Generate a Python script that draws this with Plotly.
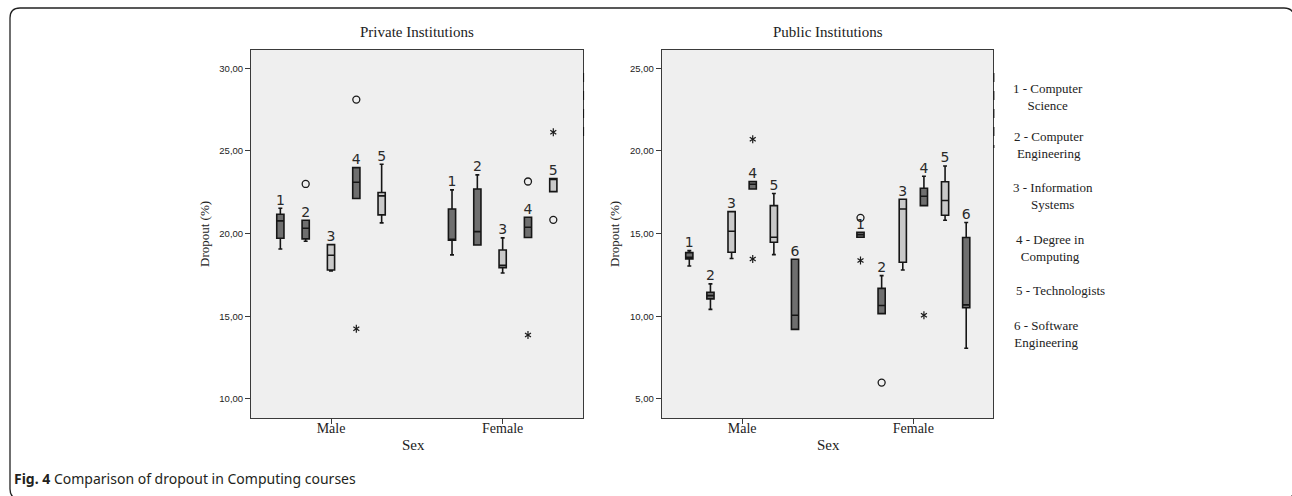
import plotly.graph_objects as go

W, H = 1292, 496

sexes = ["Male", "Female"]
programs = ["1 - Computer<br>Science", "2 - Computer<br>Engineering", "3 - Information<br>Systems",
            "4 - Degree in<br>Computing", "5 - Technologists", "6 - Software<br>Engineering"]
program_ids = ["1", "2", "3", "4", "5", "6"]

# Private institutions (programs 1-5); one list per sex
priv_lower = [[19.07, 19.54, 17.74, 22.12, 20.65], [18.71, 19.31, 17.62, 19.76, 22.54]]
priv_q1 = [[19.72, 19.68, 17.80, 22.12, 21.13], [19.60, 19.31, 17.94, 19.76, 22.54]]
priv_median = [[20.77, 20.32, 18.69, 23.10, 22.28], [19.60, 20.12, 18.08, 20.38, 23.27]]
priv_q3 = [[21.17, 20.81, 19.33, 23.99, 22.48], [21.49, 22.70, 19.01, 20.99, 23.33]]
priv_upper = [[21.53, 20.81, 19.33, 23.99, 24.19], [22.64, 23.55, 19.74, 20.99, 23.33]]
# outliers: (sex index, program index, value)
priv_circles = [(0, 1, 23.0), (0, 3, 28.10), (1, 3, 23.15), (1, 4, 20.83)]
priv_stars = [(0, 3, 14.25), (1, 3, 13.87), (1, 4, 26.13)]

# Public institutions (programs 1-6)
pub_lower = [[13.04, 10.42, 13.49, 17.70, 13.73, 9.21], [14.78, 10.16, 12.80, 16.69, 15.81, 8.07]]
pub_q1 = [[13.47, 11.05, 13.87, 17.70, 14.48, 9.21], [14.78, 10.16, 13.27, 16.69, 16.11, 10.52]]
pub_median = [[13.57, 11.25, 15.14, 17.98, 14.78, 10.06], [14.94, 10.65, 16.49, 17.26, 17.00, 10.69]]
pub_q3 = [[13.85, 11.45, 16.33, 18.15, 16.69, 13.45], [15.08, 11.69, 17.08, 17.74, 18.13, 14.76]]
pub_upper = [[13.97, 11.96, 16.33, 18.15, 17.42, 13.45], [15.08, 12.46, 17.08, 18.47, 19.09, 15.67]]
pub_circles = [(1, 0, 15.95), (1, 1, 5.99)]
pub_stars = [(0, 3, 20.71), (0, 3, 13.47), (1, 0, 13.37), (1, 3, 10.06)]

priv_ticks = [10, 15, 20, 25, 30]
pub_ticks = [5, 10, 15, 20, 25]

dark_fill = "#6f6f6f"
light_fill = "#c9c9c9"
fills = [dark_fill, dark_fill, light_fill, dark_fill, light_fill, dark_fill]

fig = go.Figure()


def panel(xa, ya, lower, q1, med, q3, upper, circles, stars, step):
    n = len(lower[0])

    def pos(s, k):
        return s + (k - (n - 1) / 2) * step

    lab_x, lab_y, lab_t = [], [], []
    for s in range(2):
        for k in range(n):
            fig.add_trace(go.Box(
                x=[pos(s, k)], q1=[q1[s][k]], median=[med[s][k]], q3=[q3[s][k]],
                lowerfence=[lower[s][k]], upperfence=[upper[s][k]],
                width=0.042, whiskerwidth=0.55, fillcolor=fills[k],
                line=dict(color="#161616", width=1.6), boxpoints=False,
                xaxis=xa, yaxis=ya, showlegend=False, hoverinfo="skip"))
            lab_x.append(pos(s, k))
            lab_y.append(upper[s][k])
            lab_t.append(program_ids[k])
    fig.add_trace(go.Scatter(
        x=lab_x, y=lab_y, text=lab_t, mode="text", textposition="top center",
        textfont=dict(family="DejaVu Sans", size=14, color="#2a2a2a"),
        xaxis=xa, yaxis=ya, showlegend=False, hoverinfo="skip"))
    fig.add_trace(go.Scatter(
        x=[pos(s, k) for s, k, v in circles], y=[v for s, k, v in circles], mode="markers",
        marker=dict(symbol="circle-open", size=7, color="#1a1a1a", line=dict(width=1.3)),
        xaxis=xa, yaxis=ya, showlegend=False, hoverinfo="skip"))
    # six-armed asterisk built from two three-armed marks
    for sym in ["y-up-open", "y-down-open"]:
        fig.add_trace(go.Scatter(
            x=[pos(s, k) for s, k, v in stars], y=[v for s, k, v in stars], mode="markers",
            marker=dict(symbol=sym, size=5, color="#1a1a1a", line=dict(width=1.2, color="#1a1a1a")),
            xaxis=xa, yaxis=ya, showlegend=False, hoverinfo="skip"))


panel("x", "y", priv_lower, priv_q1, priv_median, priv_q3, priv_upper, priv_circles, priv_stars, 0.1475)
panel("x2", "y2", pub_lower, pub_q1, pub_median, pub_q3, pub_upper, pub_circles, pub_stars, 0.1235)

y_dom = [1 - 418 / H, 1 - 50 / H]
axis_common = dict(showline=True, mirror=True, linecolor="#3a3a3a", linewidth=1, showgrid=False,
                   zeroline=False, ticks="outside", ticklen=5, tickcolor="#3a3a3a")
xfont = dict(family="Liberation Serif", size=14, color="#222")
yfont = dict(family="Liberation Sans", size=9.5, color="#222")

fig.update_layout(
    width=W, height=H, margin=dict(l=0, r=0, t=0, b=0),
    paper_bgcolor="white", plot_bgcolor="#efefef", boxmode="overlay",
    xaxis=dict(domain=[251 / W, 583 / W], range=[-0.466, 1.468], tickvals=[0, 1], ticktext=sexes,
               tickfont=xfont, anchor="y", ticklabelstandoff=-8, **axis_common),
    yaxis=dict(domain=y_dom, range=[8.85, 31.1], tickvals=priv_ticks,
               ticktext=[f"{v},00" for v in priv_ticks], tickfont=yfont, anchor="x", **axis_common),
    xaxis2=dict(domain=[661.7 / W, 993.3 / W], range=[-0.47, 1.467], tickvals=[0, 1], ticktext=sexes,
                tickfont=xfont, anchor="y2", ticklabelstandoff=-8, **axis_common),
    yaxis2=dict(domain=y_dom, range=[3.85, 26.1], tickvals=pub_ticks,
                ticktext=[f"{v},00" for v in pub_ticks], tickfont=yfont, anchor="x2", **axis_common),
)


def px(x):
    return x / W


def py(y):
    return 1 - y / H


ann = []
serif = "Liberation Serif"
ann.append(dict(x=px(417), y=py(32), text="Private Institutions", font=dict(family=serif, size=15, color="#222")))
ann.append(dict(x=px(828), y=py(32), text="Public Institutions", font=dict(family=serif, size=15, color="#222")))
ann.append(dict(x=px(413), y=py(445), text="Sex", font=dict(family=serif, size=15, color="#222")))
ann.append(dict(x=px(828), y=py(445), text="Sex", font=dict(family=serif, size=15, color="#222")))
ann.append(dict(x=px(204), y=py(234), text="Dropout (%)", textangle=-90, font=dict(family=serif, size=13, color="#222")))
ann.append(dict(x=px(614), y=py(234), text="Dropout (%)", textangle=-90, font=dict(family=serif, size=13, color="#222")))

legend_pos = [(1048, 97), (1049, 145), (1053, 196), (1050, 248), (1060, 290), (1046, 334)]
for (lx, ly), t in zip(legend_pos, programs):
    ann.append(dict(x=px(lx), y=py(ly), text=t, align="center",
                    font=dict(family=serif, size=13, color="#222")))

ann.append(dict(x=px(12), y=py(478), xanchor="left",
                text="<b>Fig. 4</b> Comparison of dropout in Computing courses",
                font=dict(family="Noto Sans", size=14, color="#231f20")))

for a in ann:
    a.setdefault("xanchor", "center")
    a.update(xref="paper", yref="paper", yanchor="middle", showarrow=False)
fig.update_layout(annotations=ann)

# rounded outer frame (right and bottom edges fall just outside the picture)
r = 10
x0, y0, x1, y1 = 10, 8, 1294, 499
path = (f"M {px(x0)},{py(y0 + r)} Q {px(x0)},{py(y0)} {px(x0 + r)},{py(y0)} "
        f"L {px(x1 - r)},{py(y0)} Q {px(x1)},{py(y0)} {px(x1)},{py(y0 + r)} "
        f"L {px(x1)},{py(y1 - r)} Q {px(x1)},{py(y1)} {px(x1 - r)},{py(y1)} "
        f"L {px(x0 + r)},{py(y1)} Q {px(x0)},{py(y1)} {px(x0)},{py(y1 - r)} Z")
shapes = [dict(type="path", path=path, xref="paper", yref="paper", line=dict(color="#222", width=1.3))]
shapes.append(dict(type="line", xref="paper", yref="paper", x0=px(583.6), x1=px(583.6), y0=py(73), y1=py(137),
                   line=dict(color="#111", width=1, dash="dash")))
shapes.append(dict(type="line", xref="paper", yref="paper", x0=px(993.9), x1=px(993.9), y0=py(73), y1=py(148),
                   line=dict(color="#111", width=1, dash="dash")))
fig.update_layout(shapes=shapes)

fig.write_html("out.html", config={"displayModeBar": False},
               post_script="document.documentElement.style.margin='0';document.body.style.margin='0';"
                           "document.body.style.overflow='hidden';")
